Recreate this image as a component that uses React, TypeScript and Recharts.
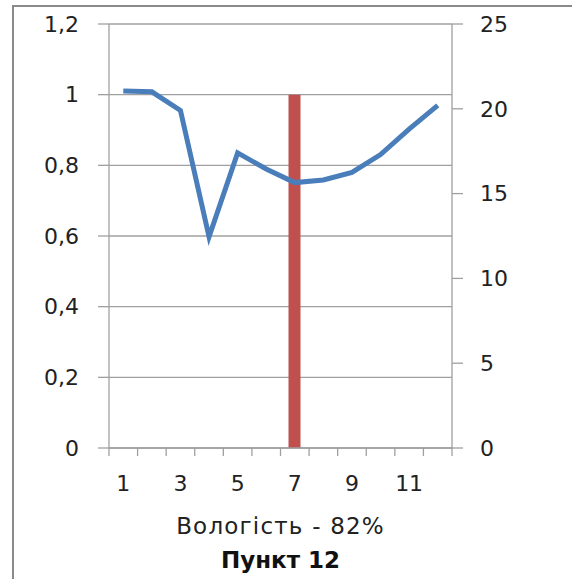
import { Bar, CartesianGrid, ComposedChart, Line, XAxis, YAxis } from 'recharts';

const categories = [1, 2, 3, 4, 5, 6, 7, 8, 9, 10, 11, 12];
const barValues = [null, null, null, null, null, null, 1, null, null, null, null, null];
const lineValues = [21.05, 21.0, 19.9, 12.45, 17.4, 16.45, 15.65, 15.8, 16.25, 17.3, 18.8, 20.2];
const leftTicks = [0, 0.2, 0.4, 0.6, 0.8, 1, 1.2];
const rightTicks = [0, 5, 10, 15, 20, 25];
const shownLabels = [1, 3, 5, 7, 9, 11];
const axisTitle = 'Вологість - 82%';
const chartTitle = 'Пункт 12';

const data = categories.map((c, i) => ({ x: c, bar: barValues[i], line: lineValues[i] }));

const FONT = '"DejaVu Sans", sans-serif';
const GRAY = '#a0a0a0';

function XTick(props: any) {
  const { x, y, payload, index } = props;
  const half = payload?.offset ?? 14.3;
  const last = index === categories.length - 1;
  return (
    <g>
      <line x1={x - half} x2={x - half} y1={y} y2={y + 8} stroke={GRAY} strokeWidth={1.3} />
      {last && <line x1={x + half} x2={x + half} y1={y} y2={y + 8} stroke={GRAY} strokeWidth={1.3} />}
      {shownLabels.includes(payload.value) && (
        <text x={x} y={y + 43} textAnchor="middle" fill="#222" fontSize={22} fontFamily={FONT}>
          {payload.value}
        </text>
      )}
    </g>
  );
}

export default function App() {
  return (
    <div style={{ position: 'absolute', left: 0, top: 0, width: 572, height: 579, background: '#fff', overflow: 'hidden' }}>
      <div
        style={{
          position: 'absolute',
          left: 12,
          top: 5,
          width: 558,
          height: 590,
          borderLeft: '2px solid #8a8a8a',
          borderTop: '2px solid #8a8a8a',
          borderRight: '1px solid #e2e2e2'
        }}
      />
      <div style={{ position: 'absolute', left: 0, top: 0 }}>
        <ComposedChart width={572} height={579} data={data} margin={{ top: 24, right: 60, bottom: 101, left: 49 }}>
          <CartesianGrid yAxisId="left" stroke={GRAY} strokeWidth={1.3} vertical={false} />
          <XAxis
            dataKey="x"
            type="category"
            interval={0}
            height={30}
            axisLine={{ stroke: GRAY, strokeWidth: 1.3 }}
            tickLine={false}
            tickSize={0}
            tickMargin={0}
            tick={<XTick />}
          />
          <YAxis
            yAxisId="left"
            orientation="left"
            width={60}
            domain={[0, 1.2]}
            ticks={leftTicks}
            interval={0}
            axisLine={{ stroke: GRAY, strokeWidth: 1.3 }}
            tickLine={{ stroke: GRAY, strokeWidth: 1.3 }}
            tickSize={11}
            tickMargin={19}
            tickFormatter={(v: number) => String(v).replace('.', ',')}
            tick={{ fill: '#222', fontSize: 22, fontFamily: FONT }}
          />
          <YAxis
            yAxisId="right"
            orientation="right"
            width={60}
            domain={[0, 25]}
            ticks={rightTicks}
            interval={0}
            axisLine={{ stroke: GRAY, strokeWidth: 1.3 }}
            tickLine={{ stroke: GRAY, strokeWidth: 1.3 }}
            tickSize={11}
            tickMargin={17}
            tick={{ fill: '#222', fontSize: 22, fontFamily: FONT }}
          />
          <Bar yAxisId="left" dataKey="bar" fill="#c0504d" barSize={12} isAnimationActive={false} />
          <Line
            yAxisId="right"
            dataKey="line"
            stroke="#4a7ebb"
            strokeWidth={5}
            dot={false}
            activeDot={false}
            isAnimationActive={false}
          />
        </ComposedChart>
      </div>
      <div
        style={{
          position: 'absolute',
          left: 109,
          width: 343,
          top: 510,
          textAlign: 'center',
          fontFamily: FONT,
          fontSize: 23,
          letterSpacing: 1.2,
          color: '#222',
          lineHeight: '32px'
        }}
      >
        {axisTitle}
      </div>
      <div
        style={{
          position: 'absolute',
          left: 109,
          width: 343,
          top: 544,
          textAlign: 'center',
          fontFamily: FONT,
          fontSize: 23,
          fontWeight: 'bold',
          color: '#111',
          lineHeight: '32px'
        }}
      >
        {chartTitle}
      </div>
    </div>
  );
}
